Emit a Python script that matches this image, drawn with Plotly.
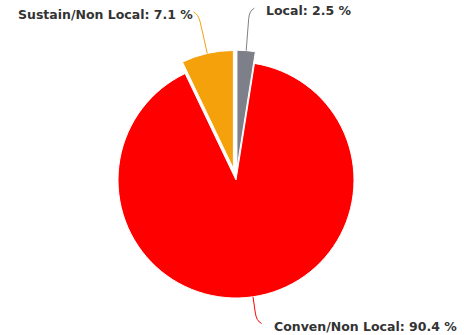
import math
import plotly.graph_objects as go

# Slice data (clockwise from 12 o'clock)
labels = ["Local", "Conven/Non Local", "Sustain/Non Local"]
values = [2.5, 90.4, 7.1]

# Styling
colors = ["#7D8088", "#FF0000", "#F5A10C"]
pulls = [0.1, 0.0, 0.1]

W, H = 464, 335
CX, CY, R = 236, 180, 118          # pie centre and radius in pixels
LABEL_GAP = 40                     # distance of label elbow beyond slice edge
Y_MIN, Y_MAX = 10, 321             # keep labels inside the canvas

max_pull = max(pulls)
half = R * (1 + max_pull)
domain_x = [(CX - half) / W, (CX + half) / W]
domain_y = [(H - CY - half) / H, (H - CY + half) / H]

fig = go.Figure(
    go.Pie(
        labels=labels,
        values=values,
        sort=False,
        direction="clockwise",
        rotation=0,
        pull=pulls,
        textinfo="none",
        hoverinfo="label+percent",
        marker=dict(colors=colors, line=dict(color="white", width=1)),
        domain=dict(x=domain_x, y=domain_y),
        showlegend=False,
    )
)


def px(x, y):
    return x / W, 1 - y / H


total = sum(values)
cum = 0.0
shapes, annotations = [], []
for lab, val, col, pl in zip(labels, values, colors, pulls):
    theta = 2 * math.pi * (cum + val / 2) / total
    cum += val
    ux, uy = math.sin(theta), -math.cos(theta)
    r_edge = R * (1 + pl)
    x0, y0 = CX + r_edge * ux, CY + r_edge * uy
    r_lab = r_edge + LABEL_GAP
    yc = CY + r_lab * uy
    yc = min(max(yc, Y_MIN), Y_MAX)
    t = (yc - CY) / uy
    xc = CX + t * ux
    side = 1 if ux >= 0 else -1
    vdir = 1 if uy >= 0 else -1
    # straight radial run, then a short curved hook towards the label
    xm, ym = CX + (t - 8) * ux, CY + (t - 8) * uy
    xe, ye = xc + side * 5, yc + vdir * 2.5
    pts = [px(x0, y0), px(xm, ym), px(xc, yc), px(xe, ye)]
    path = "M {:.5f} {:.5f} L {:.5f} {:.5f} Q {:.5f} {:.5f} {:.5f} {:.5f}".format(
        *pts[0], *pts[1], *pts[2], *pts[3]
    )
    shapes.append(dict(type="path", path=path, xref="paper", yref="paper",
                       line=dict(color=col, width=1)))
    pct = 100 * val / total
    tx = xe + (10 if side > 0 else 2)
    ax, ay = px(tx, ye + 2.5)
    annotations.append(dict(
        text="{}: {:.1f} %".format(lab, pct),
        x=ax, y=ay, xref="paper", yref="paper",
        xanchor="left" if side > 0 else "right", yanchor="middle",
        showarrow=False,
        font=dict(family="DejaVu Sans", size=12.5, color="#333333", weight="bold"),
    ))

fig.update_layout(
    width=W, height=H,
    margin=dict(l=0, r=0, t=0, b=0),
    paper_bgcolor="white",
    plot_bgcolor="white",
    shapes=shapes,
    annotations=annotations,
)

fig.write_html("out.html")
